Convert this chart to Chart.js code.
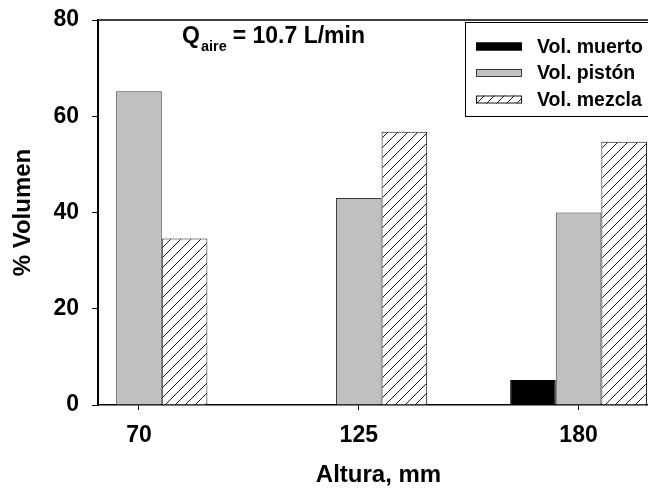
<!DOCTYPE html>
<html>
<head>
<meta charset="utf-8">
<script src="https://cdn.jsdelivr.net/npm/chart.js@4/dist/chart.umd.min.js"></script>
<style>
  html, body { margin: 0; padding: 0; background: #fff; overflow: hidden; width: 648px; height: 492px; }
  #wrap { position: absolute; left: 0; top: 0; width: 680px; height: 492px; }
</style>
</head>
<body>
<div id="wrap"><canvas id="c" width="680" height="492"></canvas></div>
<script>
// Heights (mm) on the x axis and volume fractions (%) per flow region
const categories = ['70', '125', '180'];
const seriesNames = ['Vol. muerto', 'Vol. pistón', 'Vol. mezcla'];
const deadVolume = [0, 0, 5.2];
const pistonVolume = [65.2, 43.0, 40.0];
const mixedVolume = [34.6, 56.8, 54.7];
const yTicks = [0, 20, 40, 60, 80];
const flowNote = { main: 'Q', sub: 'aire', rest: '= 10.7 L/min' };

const FONT = '"Liberation Sans", Arial, Helvetica, sans-serif';
const canvas = document.getElementById('c');
const ctx = canvas.getContext('2d');

// Diagonal "/" hatch used for the mixed-volume bars
function makeHatch() {
  const s = 10;
  const t = document.createElement('canvas');
  t.width = s; t.height = s;
  const g = t.getContext('2d');
  g.fillStyle = '#fff';
  g.fillRect(0, 0, s, s);
  g.strokeStyle = '#1a1a1a';
  g.lineWidth = 1;
  g.beginPath();
  g.moveTo(0, s); g.lineTo(s, 0);
  g.moveTo(-1, 1); g.lineTo(1, -1);
  g.moveTo(s - 1, s + 1); g.lineTo(s + 1, s - 1);
  g.stroke();
  return ctx.createPattern(t, 'repeat');
}
const hatch = makeHatch();

const toPoints = vals => vals.map((v, i) => ({ x: i, y: v }));

// Top frame line, in-plot legend box and the flow-rate note
const decorations = {
  id: 'decorations',
  afterDatasetsDraw(chart) {
    const { ctx: c, chartArea: a } = chart;
    c.save();
    c.strokeStyle = '#000';
    c.lineWidth = 1.5;
    c.beginPath();
    c.moveTo(a.left - 1, a.top);
    c.lineTo(a.right + 20, a.top);
    c.stroke();

    // legend box
    c.fillStyle = '#fff';
    c.fillRect(465, 22, 300, 94);
    c.lineWidth = 1;
    c.strokeRect(465.5, 22.5, 300, 94);
    const rows = [46.5, 73, 99.5];
    chart.data.datasets.forEach((ds, i) => {
      const y = rows[i];
      c.fillStyle = ds.backgroundColor;
      c.fillRect(476, y - 4, 46, 8);
      c.strokeStyle = ds.borderColor;
      c.lineWidth = 1;
      c.strokeRect(476.5, y - 3.5, 45, 7);
      c.fillStyle = '#000';
      c.font = 'bold 19.5px ' + FONT;
      c.textBaseline = 'middle';
      c.textAlign = 'left';
      c.fillText(ds.label, 537, y + 1);
    });

    // Q_aire = 10.7 L/min
    c.fillStyle = '#000';
    c.textBaseline = 'alphabetic';
    c.font = 'bold 23px ' + FONT;
    c.fillText(flowNote.main, 182, 43);
    const qW = c.measureText(flowNote.main).width;
    c.font = 'bold 14.5px ' + FONT;
    c.fillText(flowNote.sub, 182 + qW + 1, 50.5);
    const sW = c.measureText(flowNote.sub).width;
    c.font = 'bold 23px ' + FONT;
    c.fillText(flowNote.rest, 182 + qW + 1 + sW + 6, 43);
    c.restore();
  }
};

new Chart(ctx, {
  type: 'bar',
  data: {
    datasets: [
      { label: seriesNames[0], data: toPoints(deadVolume), backgroundColor: '#000000', borderColor: '#000000', borderWidth: 1 },
      { label: seriesNames[1], data: toPoints(pistonVolume), backgroundColor: '#c0c0c0', borderColor: '#3a3a3a', borderWidth: 1 },
      { label: seriesNames[2], data: toPoints(mixedVolume), backgroundColor: hatch, borderColor: '#111111', borderWidth: 1 }
    ]
  },
  options: {
    responsive: false,
    animation: false,
    events: [],
    layout: { padding: { top: 20, right: 21, left: 0, bottom: 0 } },
    datasets: { bar: { categoryPercentage: 0.6224, barPercentage: 1 } },
    plugins: { legend: { display: false }, tooltip: { enabled: false }, title: { display: false } },
    scales: {
      x: {
        type: 'linear',
        min: -0.1865,
        max: 2.366,
        offset: false,
        afterBuildTicks: s => { s.ticks = categories.map((_, i) => ({ value: i })); },
        afterFit: s => { s.height = 87; s.paddingLeft = 0; s.paddingRight = 0; },
        grid: { offset: false, drawOnChartArea: false, drawTicks: true, tickLength: 5, color: '#000', lineWidth: 1 },
        border: { display: true, color: '#000', width: 1.5 },
        ticks: {
          autoSkip: false, maxRotation: 0, padding: 12, color: '#000',
          font: { family: FONT, size: 23, weight: 'bold' },
          callback: v => categories[v] ?? ''
        },
        title: {
          display: true, text: 'Altura, mm', color: '#000',
          font: { family: FONT, size: 24, weight: 'bold' },
          padding: { top: 0, bottom: 2 }
        }
      },
      y: {
        min: 0,
        max: 80,
        afterBuildTicks: s => { s.ticks = yTicks.map(v => ({ value: v })); },
        afterFit: s => { s.width = 98; s.paddingTop = 0; s.paddingBottom = 0; },
        grid: { drawOnChartArea: false, drawTicks: true, tickLength: 6, color: '#000', lineWidth: 1 },
        border: { display: true, color: '#000', width: 2 },
        ticks: { padding: 13, color: '#000', font: { family: FONT, size: 23, weight: 'bold' } },
        title: {
          display: true, text: '% Volumen', color: '#000',
          font: { family: FONT, size: 24, weight: 'bold' },
          padding: { top: 9, bottom: 0 }
        }
      }
    }
  },
  plugins: [decorations]
});
</script>
</body>
</html>
